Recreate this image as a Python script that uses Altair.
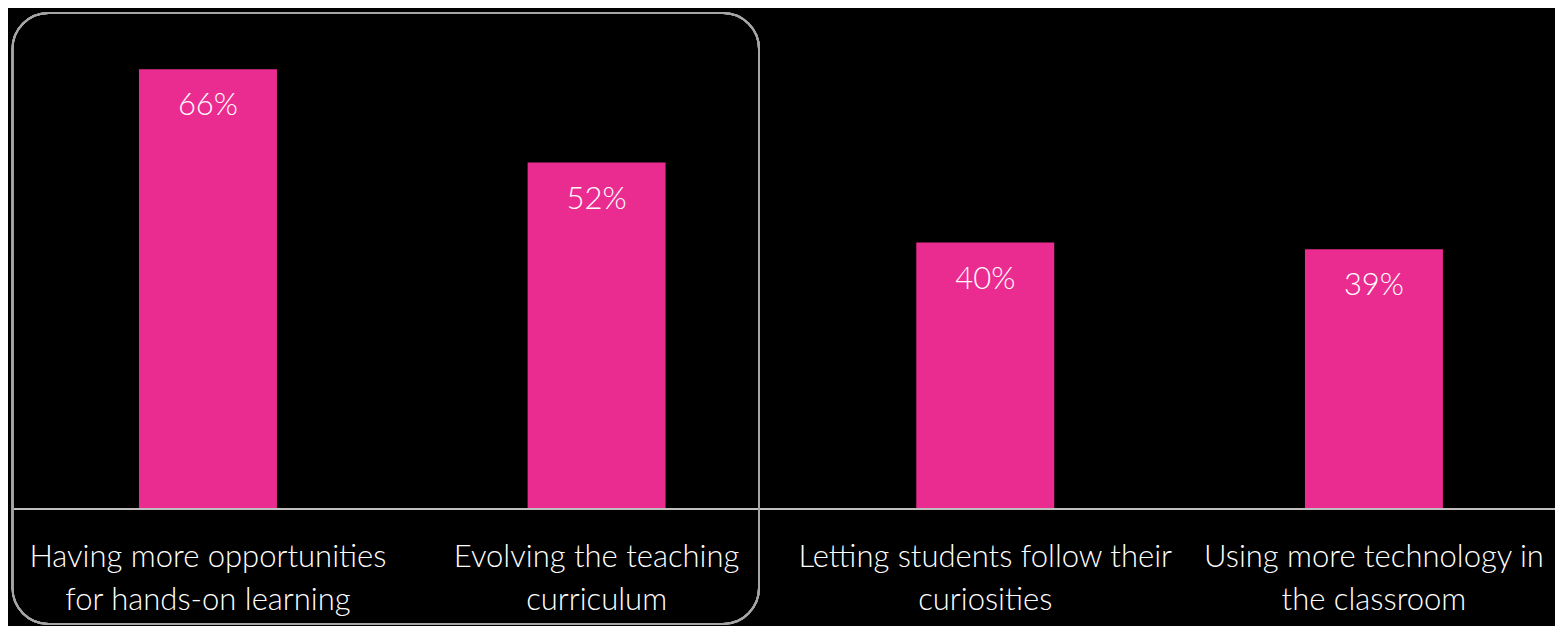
import altair as alt
import pandas as pd

categories = [
    "Having more opportunities\nfor hands-on learning",
    "Evolving the teaching\ncurriculum",
    "Letting students follow their\ncuriosities",
    "Using more technology in\nthe classroom",
]
values = [66, 52, 40, 39]
labels = ["66%", "52%", "40%", "39%"]

df = pd.DataFrame({"cat": categories, "value": values, "label": labels})

FONT = "Lato"
PINK = "#EA2C91"

x_enc = alt.X("cat:N", sort=categories, axis=None,
              scale=alt.Scale(paddingInner=0.645, paddingOuter=0.2985,
                              align=0.517, round=False))
y_scale = alt.Scale(domain=[0, 75.2], nice=False)

base = alt.Chart(df)

bars = base.mark_bar(color=PINK).encode(
    x=x_enc,
    y=alt.Y("value:Q", scale=y_scale, axis=None),
)

pct = base.mark_text(color="white", font=FONT, fontWeight=300, fontSize=31,
                     baseline="middle", dy=37).encode(
    x=x_enc,
    y=alt.Y("value:Q", scale=y_scale),
    text="label:N",
)

cats = base.mark_text(color="white", font=FONT, fontWeight=300, fontSize=31,
                      baseline="top", lineBreak="\n", lineHeight=43).encode(
    x=x_enc,
    y=alt.value(535),
    text="cat:N",
)

baseline = base.mark_rule(color="#bfbfbf", strokeWidth=2).encode(
    x=alt.value(-5), x2=alt.value(1536), y=alt.value(501)
)

frame = base.mark_rect(fillOpacity=0, stroke="#a6a6a6", strokeWidth=2,
                       cornerRadius=36).encode(
    x=alt.value(-6.5), x2=alt.value(740), y=alt.value(5), y2=alt.value(616)
)

chart = alt.layer(bars, pct, cats, baseline, frame).properties(
    width=1536, height=501,
    autosize=alt.AutoSizeParams(type="none"),
    padding={"left": 11, "top": 0, "right": 0, "bottom": 117},
    background="black",
).configure_view(stroke=None)

chart.save("out.html", embed_options={"renderer": "svg", "actions": False})
